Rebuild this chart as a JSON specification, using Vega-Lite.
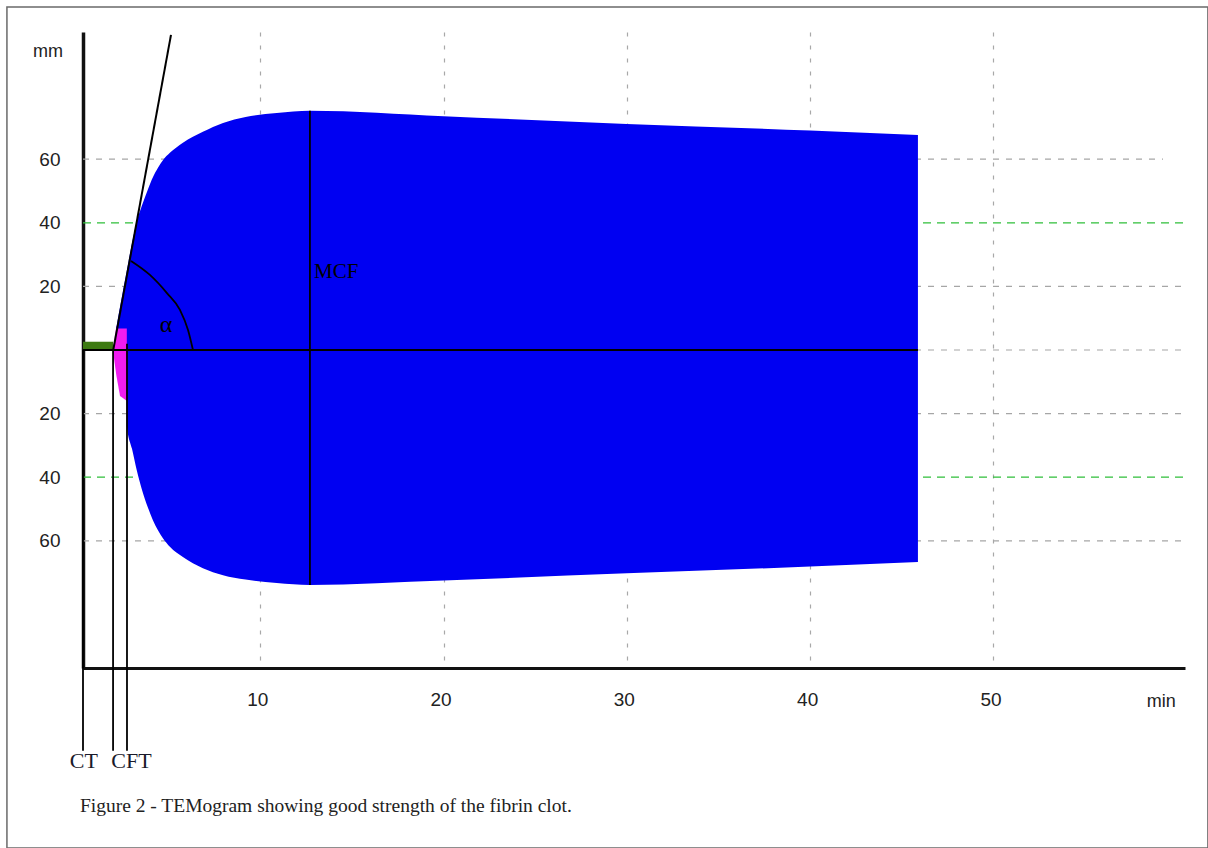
{
  "$schema": "https://vega.github.io/schema/vega-lite/v6.json",
  "width": 1102,
  "height": 636,
  "autosize": {"type": "none"},
  "padding": {"left": 83, "top": 32, "right": 23, "bottom": 180},
  "background": "white",
  "config": {"view": {"stroke": null}},
  "datasets": {
    "hgridGray": [
      {"y": 60, "x": 0.33, "x2": 59.25},
      {"y": 20, "x": 0.33, "x2": 60.45},
      {"y": 0, "x": 0.33, "x2": 60.45},
      {"y": -20, "x": 0.33, "x2": 60.3},
      {"y": -60, "x": 0.33, "x2": 60.3}
    ],
    "hgridGreen": [
      {"y": 40, "x": 0.33, "x2": 60.45},
      {"y": -40, "x": 0.33, "x2": 60.45}
    ],
    "magenta": [
      {"x": 1.96, "hi": 0, "lo": 0},
      {"x": 2.15, "hi": 7.5, "lo": -8},
      {"x": 2.35, "hi": 7.5, "lo": -14.5},
      {"x": 2.73, "hi": 7.5, "lo": -16}
    ],
    "blue": [
      {"x": 2.14, "hi": 6.8, "lo": 6.8},
      {"x": 2.72, "hi": 25.0, "lo": 6.8},
      {"x": 2.73, "hi": 25.3, "lo": -24.2},
      {"x": 3.0, "hi": 33.5, "lo": -31.0},
      {"x": 3.27, "hi": 40.5, "lo": -38.0},
      {"x": 3.55, "hi": 45.5, "lo": -44.0},
      {"x": 3.87, "hi": 50.5, "lo": -49.5},
      {"x": 4.15, "hi": 54.4, "lo": -53.6},
      {"x": 4.42, "hi": 57.3, "lo": -56.7},
      {"x": 4.69, "hi": 59.7, "lo": -59.2},
      {"x": 5.07, "hi": 62.0, "lo": -61.9},
      {"x": 5.78, "hi": 65.2, "lo": -65.1},
      {"x": 6.87, "hi": 68.6, "lo": -68.6},
      {"x": 7.97, "hi": 71.4, "lo": -70.8},
      {"x": 9.2, "hi": 73.3, "lo": -72.2},
      {"x": 10.9, "hi": 74.5, "lo": -73.3},
      {"x": 12.71, "hi": 75.2, "lo": -73.9},
      {"x": 20, "hi": 73.5, "lo": -72.5},
      {"x": 30, "hi": 71.1, "lo": -70.2},
      {"x": 40, "hi": 69.0, "lo": -68.1},
      {"x": 45.88, "hi": 67.6, "lo": -66.7}
    ],
    "vlines": [
      {"x": 0.33, "y": 0, "y2": -126},
      {"x": 1.97, "y": 0, "y2": -126},
      {"x": 2.73, "y": 2, "y2": -126},
      {"x": 12.71, "y": 75.2, "y2": -73.9}
    ],
    "tangent": [
      {"x": 1.98, "y": 0},
      {"x": 5.13, "y": 99.1}
    ],
    "arc": [
      {"x": 2.95, "y": 28.0},
      {"x": 3.98, "y": 23.6},
      {"x": 4.91, "y": 17.9},
      {"x": 5.62, "y": 12.6},
      {"x": 6.06, "y": 6.3},
      {"x": 6.33, "y": 0}
    ]
  },
  "layer": [
    {
      "data": {"name": "hgridGray"},
      "mark": {"type": "rule", "color": "#a6a6a6", "strokeWidth": 1.2, "strokeDash": [6, 7]},
      "encoding": {
        "x": {
          "field": "x", "type": "quantitative",
          "scale": {"domain": [0.33, 60.45], "nice": false, "zero": false},
          "axis": {
            "values": [10, 20, 30, 40, 50],
            "title": null,
            "grid": true, "gridColor": "#a8a8a8", "gridDash": [4, 9], "gridWidth": 1.2,
            "ticks": false, "tickSize": 0,
            "domainColor": "#111", "domainWidth": 3,
            "labelFont": "Liberation Sans",
            "labelFontSize": 19, "labelColor": "#222", "labelPadding": 22, "labelOffset": -3
          }
        },
        "x2": {"field": "x2"},
        "y": {
          "field": "y", "type": "quantitative",
          "scale": {"domain": [-100, 100], "nice": false, "zero": false},
          "axis": {
            "values": [-60, -40, -20, 20, 40, 60],
            "labelExpr": "'' + abs(datum.value)",
            "title": null,
            "grid": false,
            "ticks": false, "tickSize": 0,
            "domainColor": "#111", "domainWidth": 3.5,
            "labelFont": "Liberation Sans",
            "labelFontSize": 19, "labelColor": "#222", "labelPadding": 23
          }
        }
      }
    },
    {
      "data": {"name": "hgridGreen"},
      "mark": {"type": "rule", "color": "#2fbf3a", "strokeWidth": 1.3, "strokeDash": [8, 6]},
      "encoding": {
        "x": {"field": "x", "type": "quantitative"},
        "x2": {"field": "x2"},
        "y": {"field": "y", "type": "quantitative"}
      }
    },
    {
      "data": {"name": "magenta"},
      "mark": {"type": "area", "color": "#f01cf0", "opacity": 1},
      "encoding": {
        "x": {"field": "x", "type": "quantitative"},
        "y": {"field": "hi", "type": "quantitative"},
        "y2": {"field": "lo"}
      }
    },
    {
      "data": {"name": "blue"},
      "mark": {"type": "area", "color": "#0000f2", "opacity": 1, "interpolate": "monotone"},
      "encoding": {
        "x": {"field": "x", "type": "quantitative"},
        "y": {"field": "hi", "type": "quantitative"},
        "y2": {"field": "lo"}
      }
    },
    {
      "data": {"values": [{"x": 0.33, "x2": 1.97, "y": 0, "y2": 2.6}]},
      "mark": {"type": "rect", "color": "#3d7a12"},
      "encoding": {
        "x": {"field": "x", "type": "quantitative"},
        "x2": {"field": "x2"},
        "y": {"field": "y", "type": "quantitative"},
        "y2": {"field": "y2"}
      }
    },
    {
      "data": {"values": [{"x": 0.33, "x2": 45.88, "y": 0}]},
      "mark": {"type": "rule", "color": "#000", "strokeWidth": 2},
      "encoding": {
        "x": {"field": "x", "type": "quantitative"},
        "x2": {"field": "x2"},
        "y": {"field": "y", "type": "quantitative"}
      }
    },
    {
      "data": {"name": "vlines"},
      "mark": {"type": "rule", "color": "#000", "strokeWidth": 1.8},
      "encoding": {
        "x": {"field": "x", "type": "quantitative"},
        "y": {"field": "y", "type": "quantitative"},
        "y2": {"field": "y2"}
      }
    },
    {
      "data": {"name": "tangent"},
      "mark": {"type": "line", "color": "#000", "strokeWidth": 2},
      "encoding": {
        "x": {"field": "x", "type": "quantitative"},
        "y": {"field": "y", "type": "quantitative"}
      }
    },
    {
      "data": {"name": "arc"},
      "mark": {"type": "line", "color": "#000", "strokeWidth": 1.8, "interpolate": "monotone"},
      "encoding": {
        "x": {"field": "x", "type": "quantitative"},
        "y": {"field": "y", "type": "quantitative"}
      }
    },
    {
      "data": {"values": [{"x": 4.86, "y": 7.9, "t": "α"}]},
      "mark": {"type": "text", "font": "Liberation Serif", "fontSize": 24, "color": "#000", "align": "center", "baseline": "middle"},
      "encoding": {
        "x": {"field": "x", "type": "quantitative"},
        "y": {"field": "y", "type": "quantitative"},
        "text": {"field": "t"}
      }
    },
    {
      "data": {"values": [{"x": 12.93, "y": 22.6, "t": "MCF"}]},
      "mark": {"type": "text", "font": "Liberation Serif", "fontSize": 21, "color": "#000", "align": "left", "baseline": "alphabetic"},
      "encoding": {
        "x": {"field": "x", "type": "quantitative"},
        "y": {"field": "y", "type": "quantitative"},
        "text": {"field": "t"}
      }
    },
    {
      "data": {"values": [{"x": 0.38, "y": -131.4, "t": "CT"}, {"x": 2.97, "y": -131.4, "t": "CFT"}]},
      "mark": {"type": "text", "font": "Liberation Serif", "fontSize": 22, "color": "#1a1a2a", "align": "center", "baseline": "alphabetic"},
      "encoding": {
        "x": {"field": "x", "type": "quantitative"},
        "y": {"field": "y", "type": "quantitative"},
        "text": {"field": "t"}
      }
    },
    {
      "data": {"values": [{"x": -1.58, "y": 93.7, "t": "mm"}, {"x": 59.15, "y": -110.7, "t": "min"}]},
      "mark": {"type": "text", "font": "Liberation Sans", "fontSize": 18, "color": "#222", "align": "center", "baseline": "middle"},
      "encoding": {
        "x": {"field": "x", "type": "quantitative"},
        "y": {"field": "y", "type": "quantitative"},
        "text": {"field": "t"}
      }
    },
    {
      "data": {"values": [{"x": 0.16, "y": -145.3, "t": "Figure 2 - TEMogram showing good strength of the fibrin clot."}]},
      "mark": {"type": "text", "font": "Liberation Serif", "fontSize": 19.5, "color": "#222", "align": "left", "baseline": "alphabetic"},
      "encoding": {
        "x": {"field": "x", "type": "quantitative"},
        "y": {"field": "y", "type": "quantitative"},
        "text": {"field": "t"}
      }
    },
    {
      "data": {"values": [{"x": -3.82, "x2": 61.7, "y": 107.9, "y2": -156.6}]},
      "mark": {"type": "rect", "fill": null, "fillOpacity": 0, "stroke": "#6a6a6a", "strokeWidth": 1.5},
      "encoding": {
        "x": {"field": "x", "type": "quantitative"},
        "x2": {"field": "x2"},
        "y": {"field": "y", "type": "quantitative"},
        "y2": {"field": "y2"}
      }
    }
  ]
}
